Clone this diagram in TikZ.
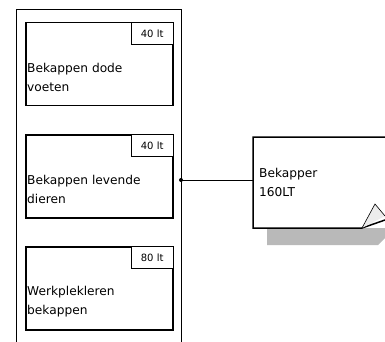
\documentclass[tikz,border=0pt]{standalone}
\usepackage{fontspec}
\setmainfont{DejaVu Sans}
\begin{document}
\begin{tikzpicture}[x=1pt,y=-1pt,
  taak/.style={draw, line width=1.5pt, minimum width=147pt, minimum height=83pt, inner sep=0pt, anchor=north west},
  tijd/.style={draw, line width=0.7pt, fill=white, minimum width=42pt, minimum height=22pt, inner sep=0pt, anchor=north east, font=\fontsize{10}{12}\selectfont},
  tekst/.style={align=left, anchor=base west, inner sep=0pt, font=\fontsize{12.2}{19}\selectfont}]
 \useasboundingbox (0,0) rectangle (385,342);
 % kolom met taken
 \draw[line width=0.6pt] (16,342) -- (16,9) -- (181,9) -- (181,342);
 \node[taak] (dode) at (25,22) {};
 \node[tijd] (tdode) at (dode.north east) {40\,\,lt};
 \node[tekst] (xdode) at (27,92) {Bekappen dode\\voeten};
 \node[taak] (levend) at (25,134) {};
 \node[tijd] (tlevend) at (levend.north east) {40\,\,lt};
 \node[tekst] (xlevend) at (27,203) {Bekappen levende\\dieren};
 \node[taak] (werk) at (25,246) {};
 \node[tijd] (twerk) at (werk.north east) {80\,\,lt};
 \node[tekst] (xwerk) at (27,314) {Werkplekleren\\bekappen};
 % notitie met omgevouwen hoek
 \fill[gray!55] (267,228) -- (362,228) -- (385,221) -- (385,238) -- (378,245) -- (267,245) -- cycle;
 \fill[white] (253,137) rectangle (385,228);
 \draw[line width=1.5pt] (385,137) -- (253,137) -- (253,228) -- (362,228) -- (385,220);
 \draw[line width=0.6pt, fill=gray!15] (362,228) -- (375,204) -- (385,216);
 \node[tekst] (note) at (259,196) {Bekapper\\160LT};
 % verbinding
 \coordinate (aansl) at (181,180);
 \fill (aansl) circle (2);
 \draw[line width=0.6pt] (aansl) -- (aansl -| 253,0);
\end{tikzpicture}
\end{document}
